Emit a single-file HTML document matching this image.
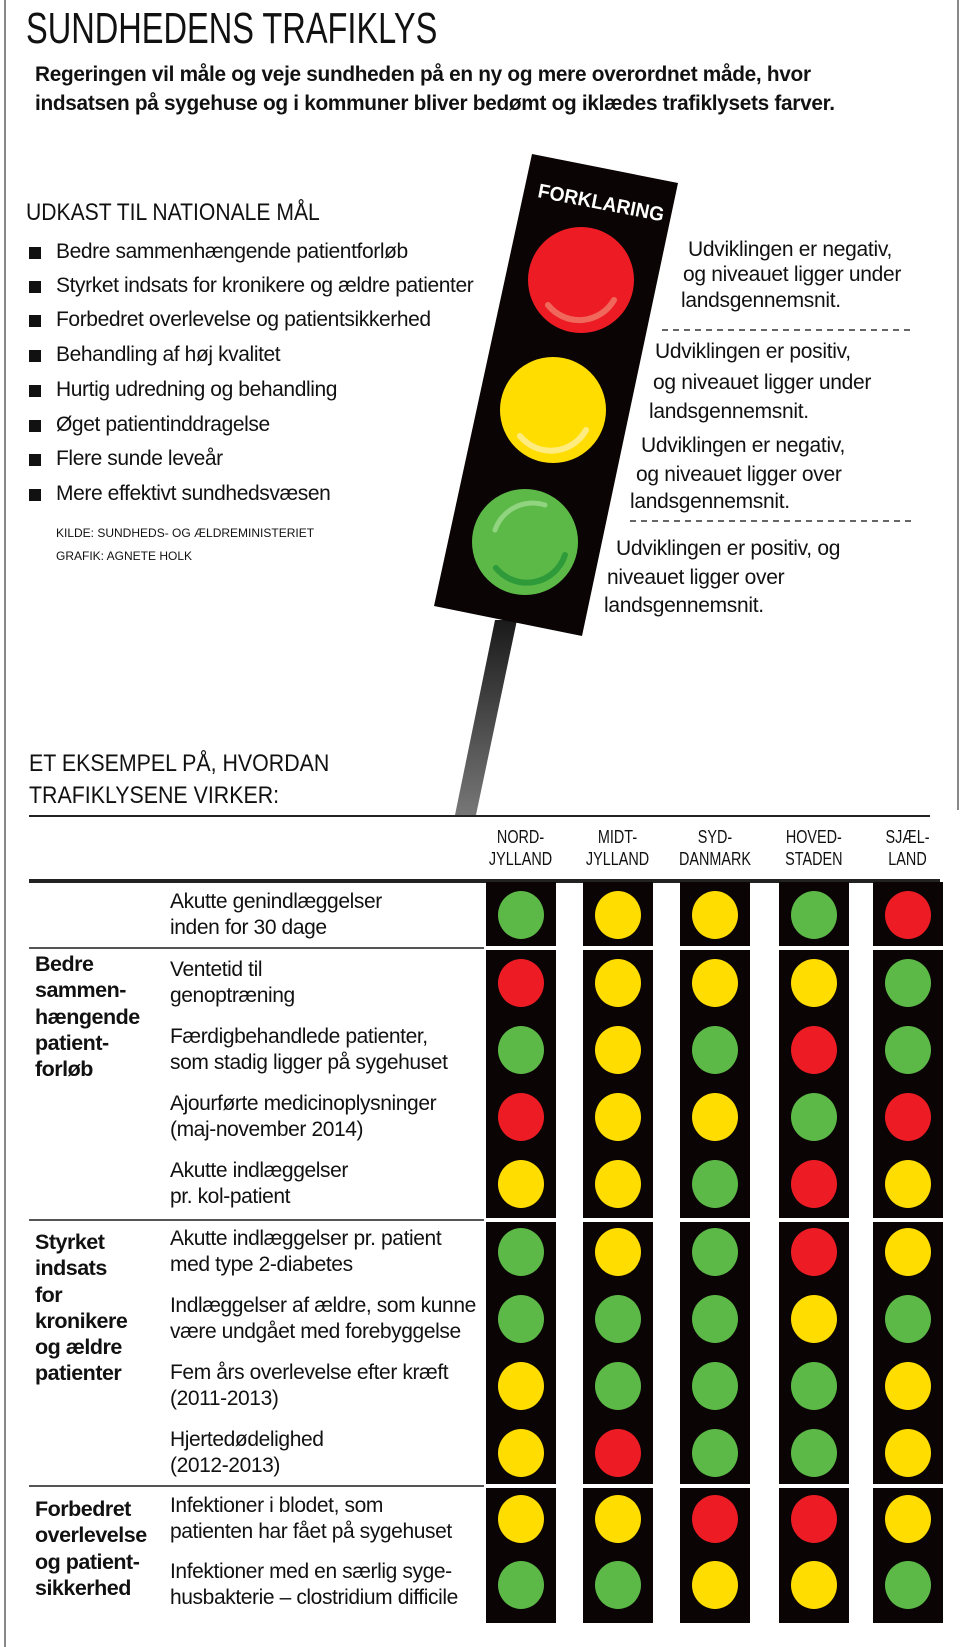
<!DOCTYPE html>
<html><head><meta charset="utf-8">
<style>
html,body{margin:0;padding:0;background:#fff;}
body{width:960px;height:1647px;position:relative;overflow:hidden;font-family:"Liberation Sans",sans-serif;color:#111;}
.t{position:absolute;white-space:nowrap;transform-origin:0 0;}
.b{font-size:21px;letter-spacing:-0.4px;}
.sq{position:absolute;left:29px;width:12px;height:12px;background:#111;}
.r{position:absolute;left:170px;font-size:21px;line-height:26px;letter-spacing:-0.4px;white-space:nowrap;}
.g{position:absolute;left:35px;font-size:21.5px;line-height:26.3px;font-weight:bold;letter-spacing:-0.5px;}
.h{position:absolute;top:826px;width:100px;text-align:center;font-size:18px;line-height:22px;}
.h span{display:inline-block;transform:scaleX(.8);}
.x{position:absolute;font-size:21px;white-space:nowrap;letter-spacing:-0.3px;}
.sep{position:absolute;left:29px;width:455px;height:2px;background:#555;}
</style></head><body>
<div style="position:absolute;left:4px;top:0;width:2px;height:1647px;background:#888"></div>
<div style="position:absolute;left:957px;top:0;width:2px;height:810px;background:#888"></div>

<div class="t" style="left:26px;top:4px;font-size:44px;transform:scaleX(.74)">SUNDHEDENS TRAFIKLYS</div>
<div class="t" style="left:35px;top:63px;font-size:21px;font-weight:bold;letter-spacing:-0.3px;transform:scaleX(.99)">Regeringen vil måle og veje sundheden på en ny og mere overordnet måde, hvor</div>
<div class="t" style="left:35px;top:92px;font-size:21px;font-weight:bold;letter-spacing:-0.3px;transform:scaleX(.99)">indsatsen på sygehuse og i kommuner bliver bedømt og iklædes trafiklysets farver.</div>

<div class="t" style="left:26px;top:199px;font-size:24px;transform:scaleX(.88)">UDKAST TIL NATIONALE MÅL</div>
<div class="sq" style="top:247px"></div><div class="t b" style="left:56px;top:240px">Bedre sammenhængende patientforløb</div>
<div class="sq" style="top:281px"></div><div class="t b" style="left:56px;top:274px">Styrket indsats for kronikere og ældre patienter</div>
<div class="sq" style="top:315px"></div><div class="t b" style="left:56px;top:308px">Forbedret overlevelse og patientsikkerhed</div>
<div class="sq" style="top:350px"></div><div class="t b" style="left:56px;top:343px">Behandling af høj kvalitet</div>
<div class="sq" style="top:385px"></div><div class="t b" style="left:56px;top:378px">Hurtig udredning og behandling</div>
<div class="sq" style="top:420px"></div><div class="t b" style="left:56px;top:413px">Øget patientinddragelse</div>
<div class="sq" style="top:454px"></div><div class="t b" style="left:56px;top:447px">Flere sunde leveår</div>
<div class="sq" style="top:489px"></div><div class="t b" style="left:56px;top:482px">Mere effektivt sundhedsvæsen</div>
<div class="t" style="left:56px;top:526px;font-size:12px;transform:scaleX(1)">KILDE: SUNDHEDS- OG ÆLDREMINISTERIET</div>
<div class="t" style="left:56px;top:549px;font-size:12px;transform:scaleX(1)">GRAFIK: AGNETE HOLK</div>

<svg width="960" height="1647" style="position:absolute;left:0;top:0" xmlns="http://www.w3.org/2000/svg">
<defs><linearGradient id="pole" x1="0" y1="0" x2="0" y2="1"><stop offset="0" stop-color="#1a1a1a"/><stop offset="1" stop-color="#777"/></linearGradient></defs>
<polygon points="495,620 517,620 476,815 455,815" fill="url(#pole)"/>
<polygon points="532,154 678,183 582,636 434,606" fill="#0a0404"/>
<text x="0" y="0" transform="translate(537,197) rotate(11)" fill="#fff" font-family="Liberation Sans" font-weight="bold" font-size="20" textLength="128" lengthAdjust="spacingAndGlyphs">FORKLARING</text>
<circle cx="581" cy="280" r="53" fill="#ed1c24"/>
<path d="M548,305 A40,40 0 0 0 614,300" stroke="#f07a6a" stroke-width="6" fill="none" stroke-linecap="round" opacity=".8"/>
<circle cx="553" cy="410" r="53" fill="#ffdd00"/>
<path d="M520,436 A40,40 0 0 0 586,430" stroke="#fff0a0" stroke-width="6" fill="none" stroke-linecap="round" opacity=".8"/>
<circle cx="525" cy="542" r="53" fill="#5cb947"/>
<path d="M495,530 A40,40 0 0 1 545,505" stroke="#9edb8f" stroke-width="5" fill="none" stroke-linecap="round" opacity=".8"/>
<path d="M496,568 A40,40 0 0 0 565,555" stroke="#2f9a3a" stroke-width="6" fill="none" stroke-linecap="round"/>
<line x1="662" y1="330" x2="914" y2="330" stroke="#333" stroke-width="1.5" stroke-dasharray="6,5"/>
<line x1="630" y1="521" x2="914" y2="521" stroke="#333" stroke-width="1.5" stroke-dasharray="6,5"/>
<line x1="29" y1="816" x2="930" y2="816" stroke="#222" stroke-width="2"/>
<line x1="29" y1="881" x2="940" y2="881" stroke="#222" stroke-width="4"/>
<g id="boxes"></g>
</svg>

<div class="x" style="left:688px;top:238px">Udviklingen er negativ,</div>
<div class="x" style="left:683px;top:263px">og niveauet ligger under</div>
<div class="x" style="left:681px;top:289px">landsgennemsnit.</div>
<div class="x" style="left:655px;top:340px">Udviklingen er positiv,</div>
<div class="x" style="left:653px;top:371px">og niveauet ligger under</div>
<div class="x" style="left:649px;top:400px">landsgennemsnit.</div>
<div class="x" style="left:641px;top:434px">Udviklingen er negativ,</div>
<div class="x" style="left:636px;top:463px">og niveauet ligger over</div>
<div class="x" style="left:630px;top:490px">landsgennemsnit.</div>
<div class="x" style="left:616px;top:537px">Udviklingen er positiv, og</div>
<div class="x" style="left:607px;top:566px">niveauet ligger over</div>
<div class="x" style="left:604px;top:594px">landsgennemsnit.</div>

<div class="t" style="left:29px;top:750px;font-size:24px;transform:scaleX(.89)">ET EKSEMPEL PÅ, HVORDAN</div>
<div class="t" style="left:29px;top:782px;font-size:24px;transform:scaleX(.89)">TRAFIKLYSENE VIRKER:</div>

<div class="h" style="left:471px"><span>NORD-<br>JYLLAND</span></div>
<div class="h" style="left:568px"><span>MIDT-<br>JYLLAND</span></div>
<div class="h" style="left:665px"><span>SYD-<br>DANMARK</span></div>
<div class="h" style="left:764px"><span>HOVED-<br>STADEN</span></div>
<div class="h" style="left:858px"><span>SJÆL-<br>LAND</span></div>

<div class="sep" style="top:947px"></div>
<div class="sep" style="top:1219px"></div>
<div class="sep" style="top:1485px"></div>

<div class="r" style="top:889px">Akutte genindlæggelser<br>inden for 30 dage</div>
<div class="r" style="top:957px">Ventetid til<br>genoptræning</div>
<div class="r" style="top:1024px">Færdigbehandlede patienter,<br>som stadig ligger på sygehuset</div>
<div class="r" style="top:1091px">Ajourførte medicinoplysninger<br>(maj-november 2014)</div>
<div class="r" style="top:1158px">Akutte indlæggelser<br>pr. kol-patient</div>
<div class="r" style="top:1226px">Akutte indlæggelser pr. patient<br>med type 2-diabetes</div>
<div class="r" style="top:1293px">Indlæggelser af ældre, som kunne<br>være undgået med forebyggelse</div>
<div class="r" style="top:1360px">Fem års overlevelse efter kræft<br>(2011-2013)</div>
<div class="r" style="top:1427px">Hjertedødelighed<br>(2012-2013)</div>
<div class="r" style="top:1493px">Infektioner i blodet, som<br>patienten har fået på sygehuset</div>
<div class="r" style="top:1559px">Infektioner med en særlig syge-<br>husbakterie – clostridium difficile</div>

<div class="g" style="top:951px">Bedre<br>sammen-<br>hængende<br>patient-<br>forløb</div>
<div class="g" style="top:1229px">Styrket<br>indsats<br>for<br>kronikere<br>og ældre<br>patienter</div>
<div class="g" style="top:1496px">Forbedret<br>overlevelse<br>og patient-<br>sikkerhed</div>

<script>
(function(){
var cols=[486,583,680,779,873],w=70;
var groups=[[882,946],[950,1218],[1222,1484],[1488,1623]];
var ys=[915,983,1050,1117,1184,1252,1319,1386,1453,1519,1585];
var g="GYYGR RYYYG GYGRG RYYGR YYGRY GYGRY GGGYG YGGGY YRGGY YYRRY GGYYG".split(" ");
var C={R:"#ed1c24",Y:"#ffdd00",G:"#5cb947"};
var s="";
cols.forEach(function(x){groups.forEach(function(gr){s+='<rect x="'+x+'" y="'+gr[0]+'" width="'+w+'" height="'+(gr[1]-gr[0])+'" fill="#0a0404"/>';});});
ys.forEach(function(y,i){cols.forEach(function(x,j){s+='<ellipse cx="'+(x+w/2)+'" cy="'+y+'" rx="23" ry="24" fill="'+C[g[i][j]]+'"/>';});});
document.getElementById("boxes").innerHTML=s;
})();
</script>
</body></html>
